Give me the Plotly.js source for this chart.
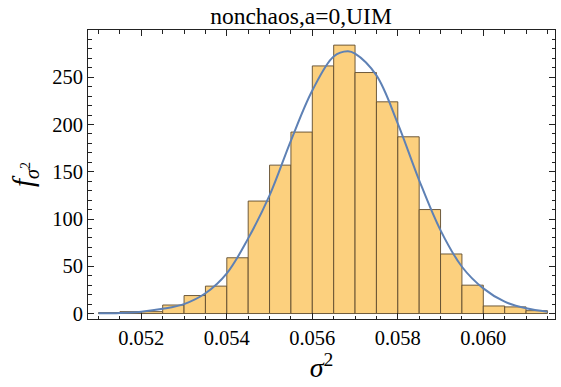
<!DOCTYPE html>
<html>
<head>
<meta charset="utf-8">
<script src="https://cdn.plot.ly/plotly-3.0.1.min.js"></script>
<style>html,body{margin:0;padding:0;background:#fff;}#chart{width:561px;height:387px;}</style>
</head>
<body>
<div id="chart"></div>
<script>
// Histogram bins (centers, width 0.0005) and counts
const binCenters = [0.05125, 0.05175, 0.05225, 0.05275, 0.05325, 0.05375, 0.05425, 0.05475,
  0.05525, 0.05575, 0.05625, 0.05675, 0.05725, 0.05775, 0.05825, 0.05875, 0.05925, 0.05975,
  0.06025, 0.06075, 0.06125];
const binWidth = 0.0005;
const counts = [1, 2, 2, 9, 19, 29, 59, 119, 157, 192, 262, 284, 255, 224, 187, 110, 63, 30, 8, 7, 3];

// Fitted density curve
const curveX = [0.0510, 0.0515, 0.0520, 0.0525, 0.0530, 0.0535, 0.0540, 0.0545, 0.0550, 0.0555,
  0.0560, 0.0565, 0.05683, 0.0570, 0.0575, 0.0580, 0.0585, 0.0590, 0.0595, 0.0600, 0.0605, 0.0610, 0.0615];
const curveY = [0.2, 0.6, 2, 5, 10, 21.4, 42.5, 79.5, 125, 183,
  236, 272, 277.5, 275, 252, 201, 141, 88, 49.5, 26.6, 12.5, 5.5, 1.9];

const xTicks = [0.052, 0.054, 0.056, 0.058, 0.060];
const xTickLabels = ['0.052', '0.054', '0.056', '0.058', '0.060'];
const yTicks = [0, 50, 100, 150, 200, 250];

const serif = 'Liberation Serif';

const traces = [
  {
    type: 'bar',
    x: binCenters,
    y: counts,
    width: binWidth,
    marker: {color: '#FCD07E', line: {color: 'rgba(95,75,45,0.9)', width: 1}},
    hoverinfo: 'x+y'
  },
  {
    type: 'scatter',
    mode: 'lines',
    x: curveX,
    y: curveY,
    line: {color: '#5E81B5', width: 2, shape: 'spline', smoothing: 1}
  }
];

const axisCommon = {
  showgrid: false,
  zeroline: false,
  showline: true,
  linecolor: '#222',
  linewidth: 1,
  mirror: 'ticks',
  ticks: 'inside',
  ticklen: 6,
  tickwidth: 1,
  tickcolor: '#222',
  tickfont: {family: serif, size: 20.5, color: '#000'}
};

const layout = {
  width: 561,
  height: 387,
  margin: {l: 88, r: 6, t: 30, b: 68},
  paper_bgcolor: '#fff',
  plot_bgcolor: '#fff',
  showlegend: false,
  bargap: 0,
  font: {family: serif, color: '#000'},
  title: {
    text: 'nonchaos,a=0,UIM',
    font: {family: serif, size: 23.5, color: '#000'},
    x: 301 / 561, xref: 'container', xanchor: 'center',
    y: 1 - 16 / 387, yref: 'container', yanchor: 'middle'
  },
  xaxis: Object.assign({}, axisCommon, {
    range: [0.050753, 0.061677],
    tickvals: xTicks,
    ticktext: xTickLabels,
    minor: {dtick: 0.0005, tick0: 0.051, ticks: 'inside', ticklen: 3.5, tickcolor: '#222', tickwidth: 1},
    title: {text: '<i>σ</i><sup>2</sup>', font: {family: serif, size: 28, color: '#000'}, standoff: 9}
  }),
  yaxis: Object.assign({}, axisCommon, {
    range: [-5.8, 300],
    tickvals: yTicks,
    minor: {dtick: 10, tick0: 0, ticks: 'inside', ticklen: 3.5, tickcolor: '#222', tickwidth: 1},
    title: {text: '<i>f</i><sub><i>σ</i><sup>2</sup></sub>', font: {family: serif, size: 29, color: '#000'}, standoff: 10}
  })
};

Plotly.newPlot('chart', traces, layout, {displayModeBar: false, staticPlot: true});
</script>
</body>
</html>
